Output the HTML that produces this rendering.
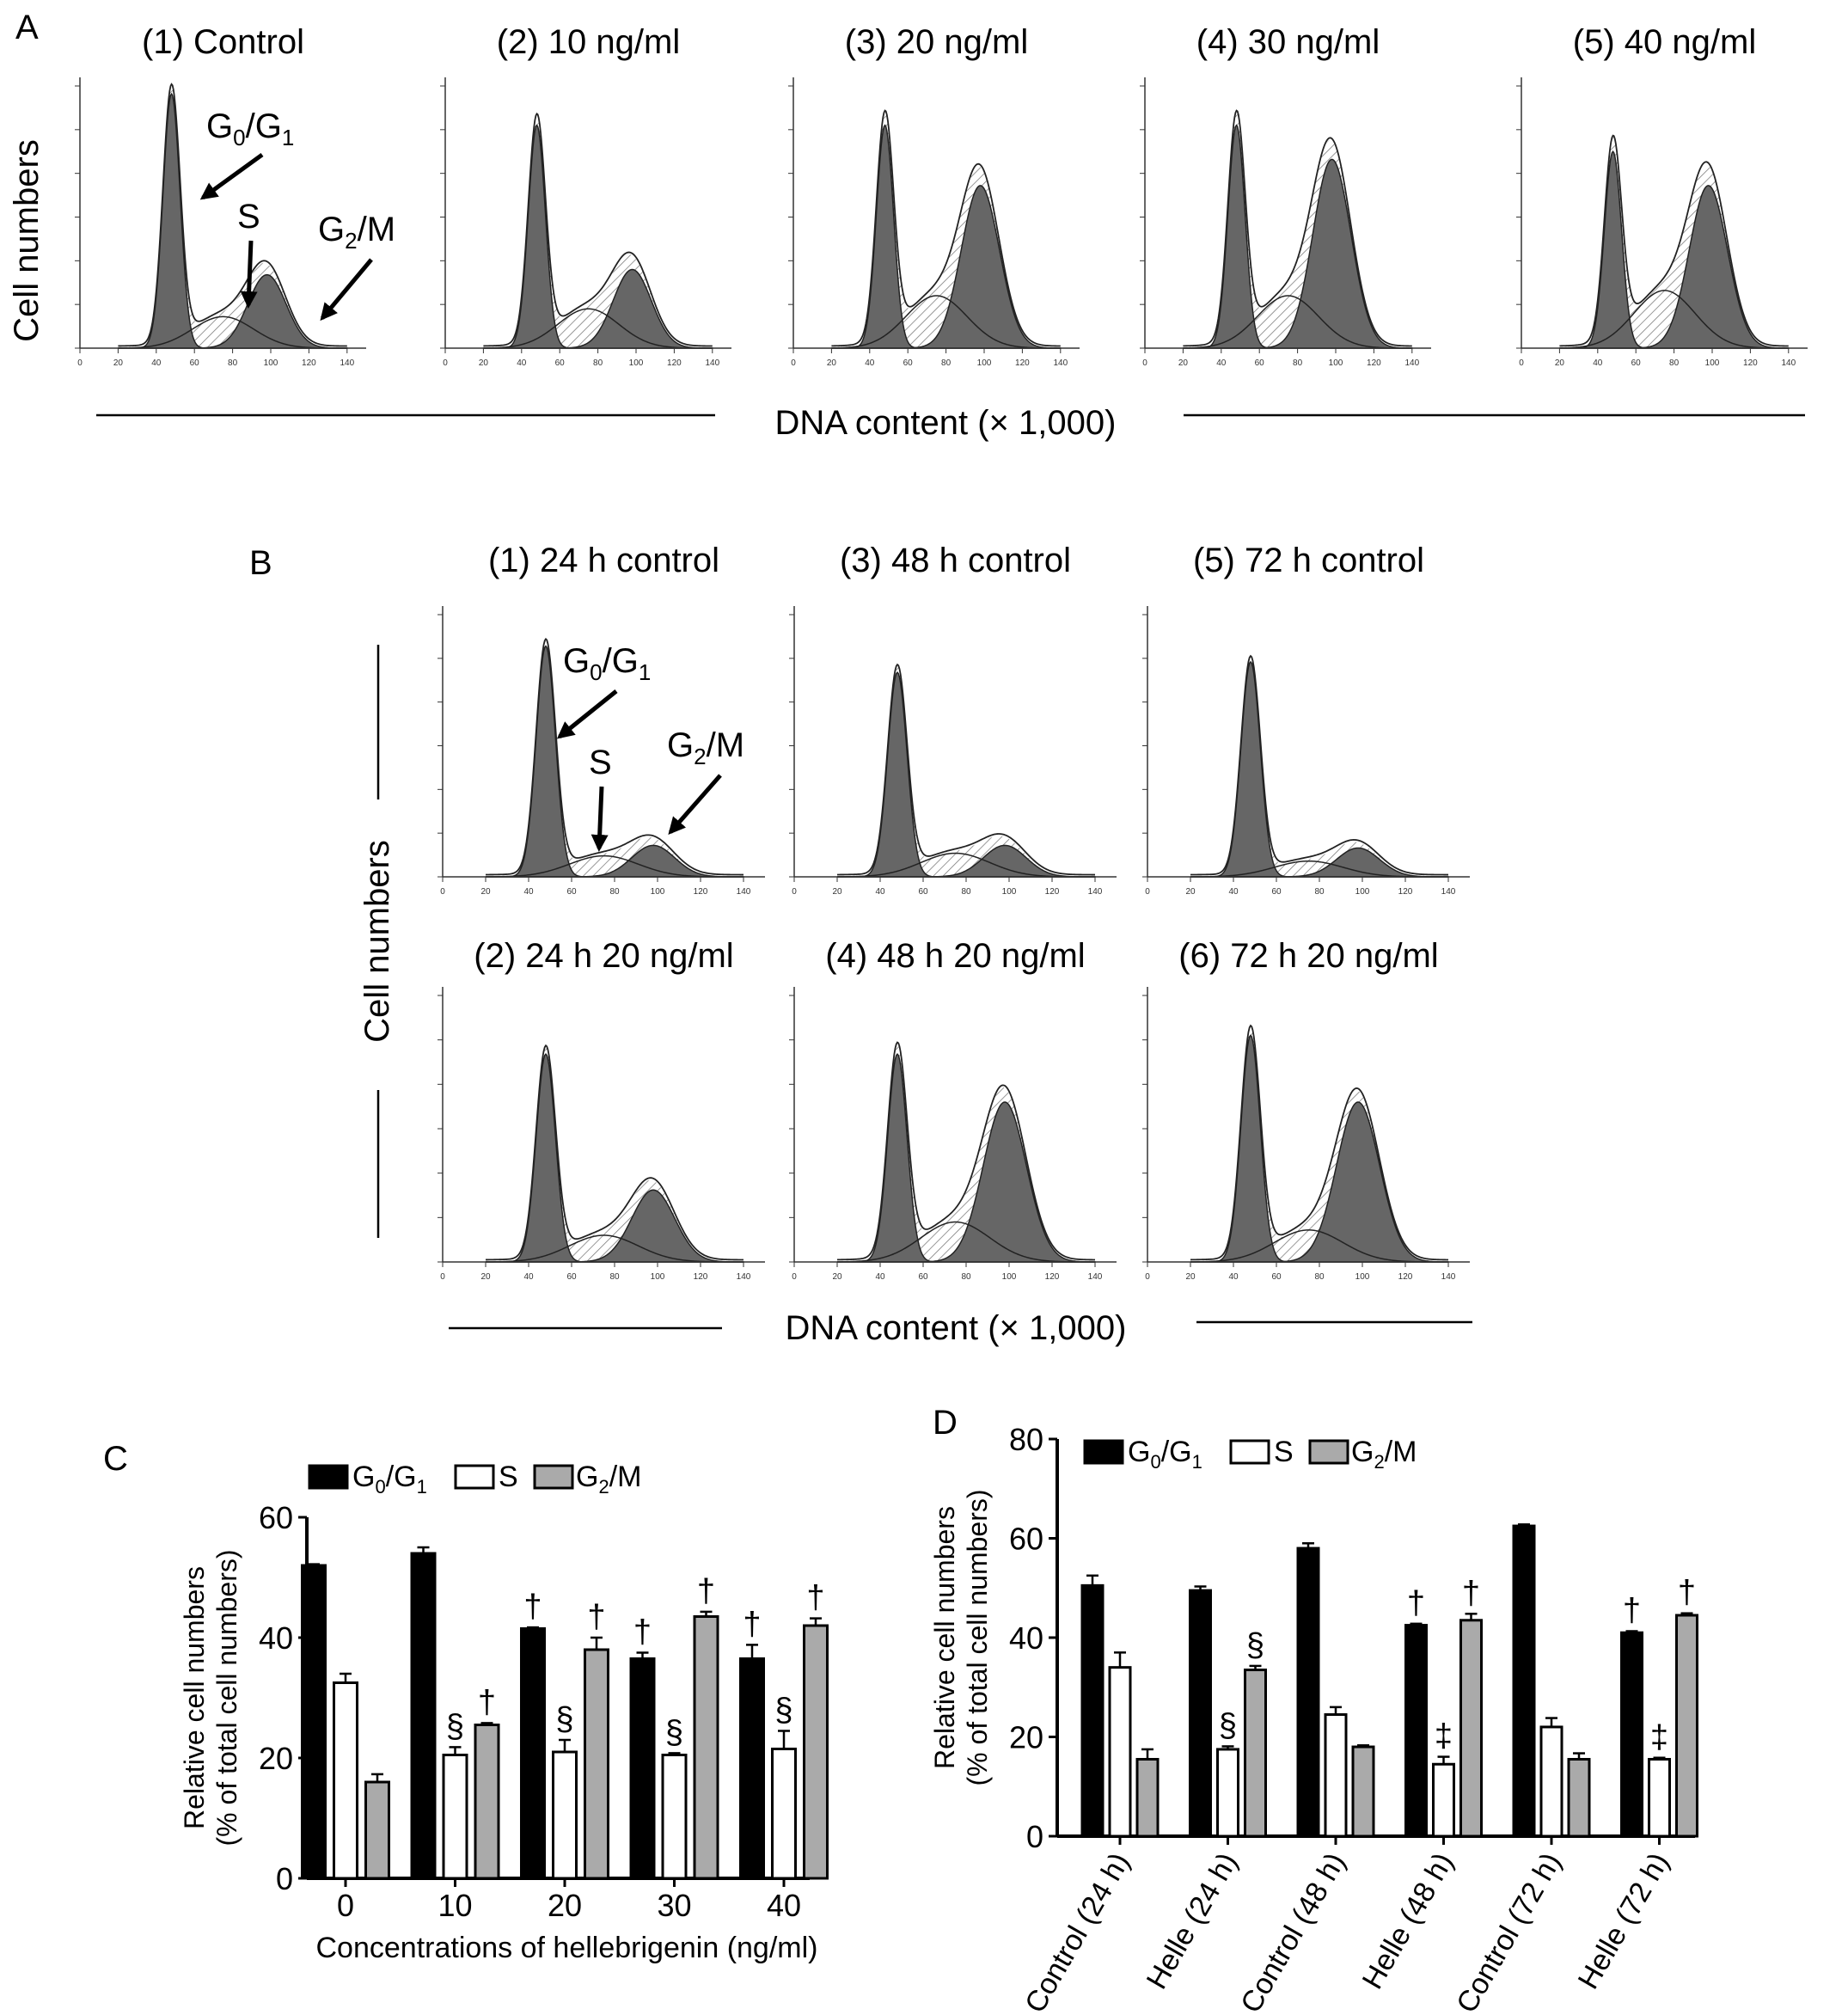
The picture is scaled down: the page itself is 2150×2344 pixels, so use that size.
<!DOCTYPE html>
<html><head><meta charset="utf-8"><style>
body{margin:0;background:#fff;}
svg{display:block;font-family:"Liberation Sans",Arial,sans-serif;}
</style></head><body>
<svg id="fig" width="2150" height="2344" viewBox="0 0 2150 2344" xmlns="http://www.w3.org/2000/svg">
<defs><pattern id="hatch" width="8" height="8" patternUnits="userSpaceOnUse" patternTransform="rotate(45)"><rect width="8" height="8" fill="#fff"/><line x1="0" y1="0" x2="0" y2="8" stroke="#777" stroke-width="1.5"/></pattern>
<marker id="ah" viewBox="0 0 10 10" refX="8" refY="5" markerWidth="4" markerHeight="4" orient="auto"><path d="M0,0L10,5L0,10Z" fill="#000"/></marker></defs>
<g id="hist"></g>
<g id="chartC"></g>
<g id="chartD"></g>
<g font-size="40">
<text x="240" y="160">G<tspan font-size="26" dy="9">0</tspan><tspan dy="-9">/G</tspan><tspan font-size="26" dy="9">1</tspan></text>
<line x1="305" y1="180" x2="236" y2="230" stroke="#000" stroke-width="5" marker-end="url(#ah)"/>
<text x="276" y="265">S</text>
<line x1="292" y1="280" x2="289" y2="355" stroke="#000" stroke-width="5" marker-end="url(#ah)"/>
<text x="370" y="280">G<tspan font-size="26" dy="9">2</tspan><tspan dy="-9">/M</tspan></text>
<line x1="432" y1="302" x2="375" y2="370" stroke="#000" stroke-width="5" marker-end="url(#ah)"/>
</g>
<g font-size="40">
<text x="655" y="782">G<tspan font-size="26" dy="9">0</tspan><tspan dy="-9">/G</tspan><tspan font-size="26" dy="9">1</tspan></text>
<line x1="717" y1="804" x2="651" y2="857" stroke="#000" stroke-width="5" marker-end="url(#ah)"/>
<text x="685" y="900">S</text>
<line x1="700" y1="915" x2="697" y2="987" stroke="#000" stroke-width="5" marker-end="url(#ah)"/>
<text x="776" y="880">G<tspan font-size="26" dy="9">2</tspan><tspan dy="-9">/M</tspan></text>
<line x1="838" y1="902" x2="780" y2="968" stroke="#000" stroke-width="5" marker-end="url(#ah)"/>
</g>
<text x="18" y="45" font-size="40">A</text>
<text x="290" y="668" font-size="40">B</text>
<text x="120" y="1710" font-size="40">C</text>
<text x="1085" y="1668" font-size="40">D</text>
<text transform="translate(44,280) rotate(-90)" text-anchor="middle" font-size="40">Cell numbers</text>
<text x="1100" y="505" text-anchor="middle" font-size="40">DNA content (× 1,000)</text>
<line x1="112" y1="483" x2="832" y2="483" stroke="#000" stroke-width="2.5"/>
<line x1="1377" y1="483" x2="2100" y2="483" stroke="#000" stroke-width="2.5"/>
<text transform="translate(452,1095) rotate(-90)" text-anchor="middle" font-size="40">Cell numbers</text>
<line x1="440" y1="750" x2="440" y2="930" stroke="#000" stroke-width="2.5"/>
<line x1="440" y1="1268" x2="440" y2="1440" stroke="#000" stroke-width="2.5"/>
<text x="1112" y="1558" text-anchor="middle" font-size="40">DNA content (× 1,000)</text>
<line x1="522" y1="1545" x2="840" y2="1545" stroke="#000" stroke-width="2.5"/>
<line x1="1392" y1="1538" x2="1713" y2="1538" stroke="#000" stroke-width="2.5"/>
</svg>
<script>
const NS="http://www.w3.org/2000/svg";
function mk(p,t,a,txt){const e=document.createElementNS(NS,t);for(const k in a)e.setAttribute(k,a[k]);if(txt!==undefined)e.textContent=txt;p.appendChild(e);return e;}
// ===== Histograms =====
const histTitles=["(1) Control","(2) 10 ng/ml","(3) 20 ng/ml","(4) 30 ng/ml","(5) 40 ng/ml","(1) 24 h control","(3) 48 h control","(5) 72 h control","(2) 24 h 20 ng/ml","(4) 48 h 20 ng/ml","(6) 72 h 20 ng/ml"];
const histG1=[0.97,0.85,0.85,0.85,0.75,0.88,0.78,0.82,0.78,0.78,0.85];
const histG2=[0.28,0.30,0.62,0.72,0.62,0.12,0.12,0.11,0.27,0.60,0.60];
const histS=[0.12,0.15,0.20,0.20,0.22,0.08,0.09,0.06,0.10,0.15,0.12];
const histBox=[[93,90,333,315],[518,90,333,315],[923,90,333,315],[1332,90,333,315],[1770,90,333,315],
 [515,705,375,315],[924,705,375,315],[1335,705,375,315],[515,1148,375,320],[924,1148,375,320],[1335,1148,375,320]];
const titleY=[62,62,62,62,62,665,665,665,1125,1125,1125];
const hg=document.getElementById('hist');
histTitles.forEach((t,i)=>{
 const [x0,y0,w,h]=histBox[i];const base=y0+h;
 const g=mk(hg,'g',{});
 
 
 const tt=mk(g,'text',{x:x0+w/2,y:titleY[i],'text-anchor':'middle','font-size':40},t);
 
 
 const X=v=>x0+v/150*w, Y=v=>base-v*(h-10);
 const gs=(v,m,s)=>Math.exp(-((v-m)*(v-m))/(2*s*s));
 const f1=v=>histG1[i]*gs(v,48,4.5), f2=v=>histG2[i]*gs(v,98,10);
 const fs=v=>histS[i]*gs(v,75,16);
 let p1="",p2="",pt="",pl="";
 for(let v=20;v<=140;v+=0.5){
  p1+=(v==20?"M":"L")+X(v)+","+Y(f1(v));
  p2+=(v==20?"M":"L")+X(v)+","+Y(f2(v));
  pl+=(v==20?"M":"L")+X(v)+","+Y(fs(v));
  const tot=f1(v)+f2(v)+fs(v)+0.008;
  pt+=(v==20?"M":"L")+X(v)+","+Y(tot);
 }
 let top="",bot=[];
 for(let v=40;v<=110;v+=0.5){const a=Math.max(f1(v),f2(v));const tot=a+fs(v);top+=(v==40?"M":"L")+X(v)+","+Y(tot);bot.push(X(v)+","+Y(a));}
 mk(g,'path',{d:top+"L"+bot.reverse().join("L")+"Z",fill:"url(#hatch)",stroke:"none"});
 mk(g,'path',{d:p1+"L"+X(140)+","+base+"L"+X(20)+","+base+"Z",fill:"#666",stroke:"#222","stroke-width":1.5});
 mk(g,'path',{d:p2+"L"+X(140)+","+base+"L"+X(20)+","+base+"Z",fill:"#666",stroke:"#222","stroke-width":1.5});
 mk(g,'path',{d:pl,fill:"none",stroke:"#222","stroke-width":1.5});
 mk(g,'path',{d:pt,fill:"none",stroke:"#222","stroke-width":1.8});
 mk(g,'line',{x1:x0,y1:y0,x2:x0,y2:base,stroke:"#333","stroke-width":1.5});
 mk(g,'line',{x1:x0,y1:base,x2:x0+w,y2:base,stroke:"#333","stroke-width":1.5});
 for(let k=0;k<=6;k++){const yy=base-k*(h-10)/6;mk(g,'line',{x1:x0-6,y1:yy,x2:x0,y2:yy,stroke:"#333"});}
 for(let v=0;v<=140;v+=20){mk(g,'line',{x1:X(v),y1:base,x2:X(v),y2:base+6,stroke:"#333"});mk(g,'text',{x:X(v),y:base+20,'font-size':10,'text-anchor':'middle',fill:'#333'},v);}
});
// ===== Chart C =====
const catsC=["0","10","20","30","40"];
const c_g1=[52,54,41.5,36.5,36.5], c_g1e=[0.2,1,0.2,1,2.3];
const c_s=[32.5,20.5,21,20.5,21.5], c_se=[1.5,1.3,2,0.3,3];
const c_g2=[16,25.5,38,43.5,42], c_g2e=[1.3,0.3,2,0.8,1.2];
const c_ticks=[0,20,40,60];
const c_markG1=["","","†","†","†"], c_markS=["","§","§","§","§"], c_markG2=["","†","†","†","†"];
// ===== Chart D =====
const catsD=["Control (24 h)","Helle (24 h)","Control (48 h)","Helle (48 h)","Control (72 h)","Helle (72 h)"];
const d_g1=[50.5,49.5,58,42.5,62.5,41], d_g1e=[2,0.8,1,0.3,0.3,0.3];
const d_s=[34,17.5,24.5,14.5,22,15.5], d_se=[3,0.6,1.5,1.5,1.8,0.3];
const d_g2=[15.5,33.5,18,43.5,15.5,44.5], d_g2e=[2,0.8,0.3,1.3,1.2,0.4];
const d_ticks=[0,20,40,60,80];
const d_markG1=["","","","†","","†"], d_markS=["","§","","‡","","‡"], d_markG2=["","§","","†","","†"];
function barChart(id,o){
 const G=document.getElementById(id);
 const yS=v=>o.y0-(v/o.max)*(o.y0-o.yTop);
 const xC=i=>o.cx0+i*o.step;
 mk(G,'line',{x1:o.ax,y1:o.yTop,x2:o.ax,y2:o.y0,stroke:"#000","stroke-width":4});
 mk(G,'line',{x1:o.ax,y1:o.y0,x2:o.xEnd,y2:o.y0,stroke:"#000","stroke-width":4});
 o.ticks.forEach(t=>{mk(G,'line',{x1:o.ax-10,y1:yS(t),x2:o.ax,y2:yS(t),stroke:"#000","stroke-width":3});
  mk(G,'text',{x:o.ax-16,y:yS(t)+13,'text-anchor':'end','font-size':36},t);});
 const series=[[o.g1,o.g1e,"#000",-o.bw-o.gap,o.m1],[o.s,o.se,"#fff",0,o.ms],[o.g2,o.g2e,"#aaa",o.bw+o.gap,o.m2]];
 o.cats.forEach((c,i)=>{
  series.forEach((sr,k)=>{
   const x=xC(i)+sr[3]-o.bw/2, v=sr[0][i], e=sr[1][i];
   const top=yS(v);
   const r=mk(G,'rect',{x:x,y:top,width:o.bw,height:o.y0-top,fill:sr[2],stroke:"#000","stroke-width":3});
   
   
   mk(G,'line',{x1:x+o.bw/2,y1:top,x2:x+o.bw/2,y2:yS(v+e),stroke:"#000","stroke-width":2.5});
   mk(G,'line',{x1:x+o.bw/2-7,y1:yS(v+e),x2:x+o.bw/2+7,y2:yS(v+e),stroke:"#000","stroke-width":2.5});
   if(sr[4][i])mk(G,'text',{x:x+o.bw/2,y:yS(v+e)-12,'text-anchor':'middle','font-size':38},sr[4][i]);
  });
  mk(G,'line',{x1:xC(i),y1:o.y0,x2:xC(i),y2:o.y0+10,stroke:"#000","stroke-width":3});
  if(o.rot){mk(G,'text',{transform:`translate(${xC(i)+12},${o.y0+28}) rotate(-60)`,'text-anchor':'end','font-size':34},c);}
  else mk(G,'text',{x:xC(i),y:o.y0+44,'text-anchor':'middle','font-size':36},c);
 });
 const L=o.leg;
 const lg=mk(G,'g',{});
 
 
 mk(lg,'rect',{x:L[0],y:L[1],width:44,height:26,fill:"#000",stroke:"#000","stroke-width":3});
 const t1=mk(lg,'text',{x:L[0]+50,y:L[1]+24,'font-size':34});t1.innerHTML='G<tspan font-size="22" dy="8">0</tspan><tspan dy="-8">/G</tspan><tspan font-size="22" dy="8">1</tspan>';
 mk(lg,'rect',{x:L[0]+170,y:L[1],width:44,height:26,fill:"#fff",stroke:"#000","stroke-width":3});
 mk(lg,'text',{x:L[0]+220,y:L[1]+24,'font-size':34},"S");
 mk(lg,'rect',{x:L[0]+262,y:L[1],width:44,height:26,fill:"#aaa",stroke:"#000","stroke-width":3});
 const t2=mk(lg,'text',{x:L[0]+310,y:L[1]+24,'font-size':34});t2.innerHTML='G<tspan font-size="22" dy="8">2</tspan><tspan dy="-8">/M</tspan>';
 const yt=mk(G,'text',{transform:`translate(${o.ax-102},${(o.y0+o.yTop)/2}) rotate(-90)`,'text-anchor':'middle','font-size':32});
 yt.innerHTML=`<tspan x="0" dy="-18">Relative cell numbers</tspan><tspan x="0" dy="38">(% of total cell numbers)</tspan>`;
 
 
 if(o.xt){const xt=mk(G,'text',{x:(o.ax+o.xEnd)/2+10,y:o.y0+92,'text-anchor':'middle','font-size':34},o.xt);
  
  }
}
barChart('chartC',{cats:catsC,g1:c_g1,g1e:c_g1e,s:c_s,se:c_se,g2:c_g2,g2e:c_g2e,m1:c_markG1,ms:c_markS,m2:c_markG2,
 ticks:c_ticks,max:60,ax:357,y0:2185,yTop:1765,xEnd:942,cx0:402,step:127.5,bw:27,gap:10,leg:[360,1705],xt:"Concentrations of hellebrigenin (ng/ml)"});
barChart('chartD',{cats:catsD,g1:d_g1,g1e:d_g1e,s:d_s,se:d_se,g2:d_g2,g2e:d_g2e,m1:d_markG1,ms:d_markS,m2:d_markG2,
 ticks:d_ticks,max:80,ax:1230,y0:2136,yTop:1674,xEnd:1972,cx0:1303,step:125.5,bw:24,gap:8,leg:[1262,1676],rot:true});
</script>
</body></html>
